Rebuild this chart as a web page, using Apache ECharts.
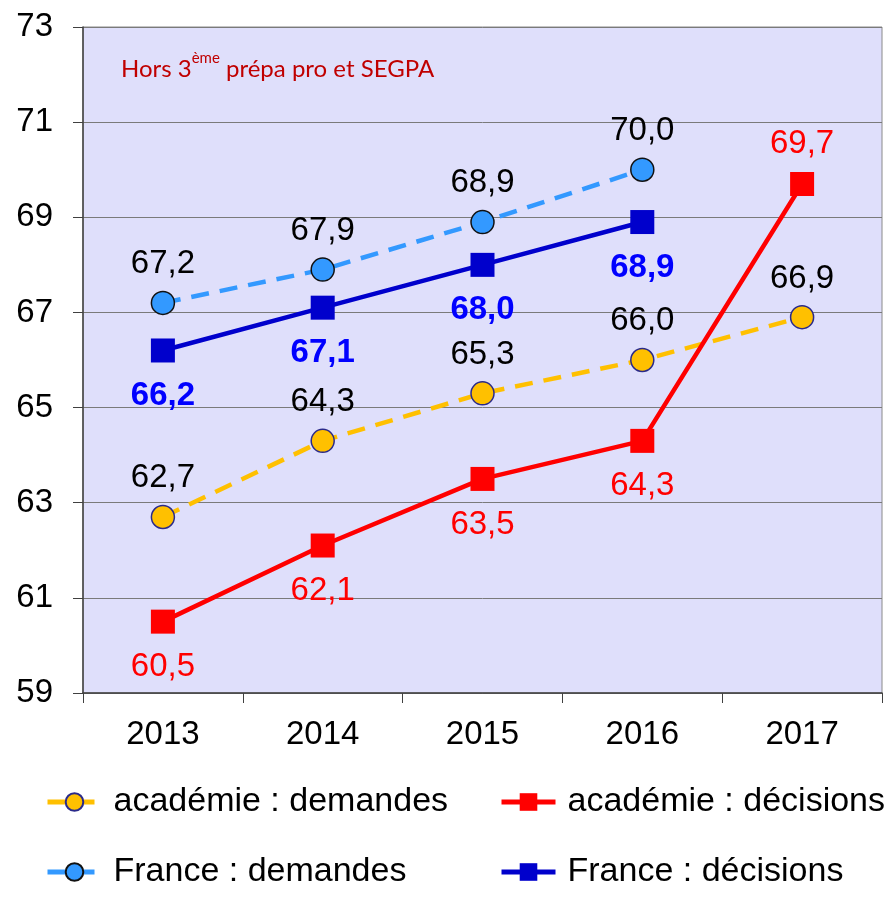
<!DOCTYPE html>
<html>
<head>
<meta charset="utf-8">
<script src="https://cdn.jsdelivr.net/npm/echarts@6/dist/echarts.min.js"></script>
<style>
  html, body { margin: 0; padding: 0; background: #fff; }
  #chart { width: 893px; height: 915px; }
</style>
</head>
<body>
<div id="chart"></div>
<script>
  // données
  const annees = ['2013', '2014', '2015', '2016', '2017']
  const acadDemandes = [62.7, 64.3, 65.3, 66.0, 66.9]
  const acadDecisions = [60.5, 62.1, 63.5, 64.3, 69.7]
  const franceDemandes = [67.2, 67.9, 68.9, 70.0, null]
  const franceDecisions = [66.2, 67.1, 68.0, 68.9, null]
  const yTicks = [59, 61, 63, 65, 67, 69, 71, 73]

  const fmt = p => p.value == null ? '' : p.value.toFixed(1).replace('.', ',')
  const font = 'Liberation Sans, Arial, sans-serif'
  const fs = 33

  let myEchart = echarts.init(document.getElementById('chart'))
  let option = {
    animation: false,
    textStyle: { fontFamily: font },
    grid: {
      left: 83, right: 11, top: 27, bottom: 222,
      show: true,
      backgroundColor: '#dfdffb',
      borderColor: '#8a8a8a',
      borderWidth: 1
    },
    graphic: [{
      type: 'text',
      left: 121,
      top: 51,
      style: {
        text: '{n|Hors 3}{s|ème}{n| prépa pro et SEGPA}',
        rich: {
          n: { fontFamily: 'Lato, sans-serif', fontSize: 24, fill: '#c00000', verticalAlign: 'bottom', lineHeight: 30 },
          s: { fontFamily: 'Lato, sans-serif', fontSize: 15, fill: '#c00000', verticalAlign: 'top', lineHeight: 30, padding: [0, 0, 12, 0] }
        }
      }
    }],
    legend: [
      { left: 40, top: 780, data: ['académie : demandes'] },
      { left: 494, top: 780, data: ['académie : décisions'] },
      { left: 40, top: 850, data: ['France : demandes'] },
      { left: 494, top: 850, data: ['France : décisions'] }
    ].map(l => Object.assign(l, {
      itemWidth: 54, itemHeight: 22, itemGap: 10,
      lineStyle: { width: 5 },
      textStyle: { fontSize: 34, color: '#000', fontFamily: font, padding: [0, 0, 0, 7] }
    })),
    xAxis: {
      type: 'category',
      data: annees,
      boundaryGap: true,
      axisLine: { lineStyle: { color: '#404040', width: 1.5 } },
      axisTick: { show: true, length: 10, lineStyle: { color: '#404040' } },
      axisLabel: { fontSize: fs, color: '#000', margin: 25 }
    },
    yAxis: {
      type: 'value',
      min: yTicks[0],
      max: yTicks[yTicks.length - 1],
      interval: 2,
      axisLine: { show: true, lineStyle: { color: '#404040', width: 1.5 } },
      axisTick: { show: true, length: 10, lineStyle: { color: '#404040' } },
      axisLabel: { fontSize: fs, color: '#000', margin: 30 },
      splitLine: { lineStyle: { color: '#7a7a7a', width: 1 } }
    },
    series: [
      {
        name: 'académie : demandes',
        type: 'line',
        data: acadDemandes,
        symbol: 'circle',
        symbolSize: 23,
        lineStyle: { color: '#ffc000', width: 4.5, type: [18, 11] },
        itemStyle: { color: '#ffc000', borderColor: '#2a2a8a', borderWidth: 1.5 },
        label: { show: true, position: 'top', distance: 10, fontSize: fs, color: '#000', formatter: fmt },
        z: 2
      },
      {
        name: 'académie : décisions',
        type: 'line',
        // 2017 : étiquette au-dessus du point
        data: acadDecisions.map((v, i) => i === acadDecisions.length - 1
          ? { value: v, label: { position: 'top', distance: 12 } }
          : v),
        symbol: 'rect',
        symbolSize: 24,
        lineStyle: { color: '#ff0000', width: 4.5 },
        itemStyle: { color: '#ff0000' },
        label: { show: true, position: 'bottom', distance: 17, fontSize: fs, color: '#ff0000', formatter: fmt },
        z: 3
      },
      {
        name: 'France : demandes',
        type: 'line',
        data: franceDemandes,
        symbol: 'circle',
        symbolSize: 23,
        lineStyle: { color: '#3399ff', width: 4.5, type: [18, 11] },
        itemStyle: { color: '#3399ff', borderColor: '#111', borderWidth: 1.5 },
        label: { show: true, position: 'top', distance: 10, fontSize: fs, color: '#000', formatter: fmt },
        z: 2
      },
      {
        name: 'France : décisions',
        type: 'line',
        data: franceDecisions,
        symbol: 'rect',
        symbolSize: 24,
        lineStyle: { color: '#0000cc', width: 4.5 },
        itemStyle: { color: '#0000cc' },
        label: { show: true, position: 'bottom', distance: 17, fontSize: fs, fontWeight: 'bold', color: '#0000ff', formatter: fmt },
        z: 3
      }
    ]
  }
  myEchart.setOption(option)
</script>
</body>
</html>
